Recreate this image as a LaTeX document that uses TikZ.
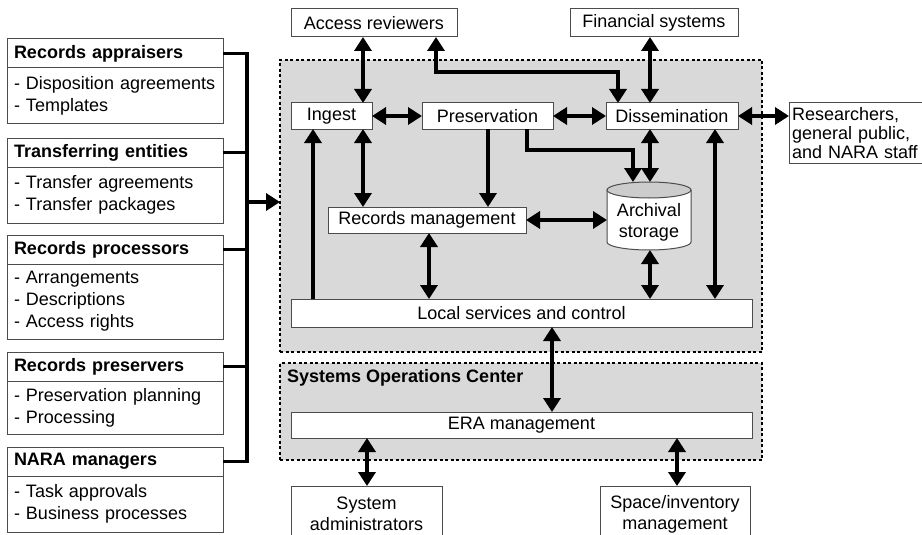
\documentclass[tikz,border=0pt]{standalone}
\usepackage{fontspec}
\setmainfont{Liberation Sans}
\usetikzlibrary{arrows.meta,calc}
\newcommand\myfs{\fontsize{18}{21}\selectfont}
\tikzset{
  box/.style={draw=black!70, line width=1pt, fill=white, inner sep=0pt, outer sep=0pt, font=\myfs, anchor=north west},
  hdr/.style={box, text width=202pt, inner xsep=7pt, align=left, minimum height=29pt, font=\myfs\bfseries},
  bodybox/.style={box, text width=202pt, inner xsep=7pt, align=left, font=\fontsize{18}{22}\selectfont},
  region/.style={draw=black, dash pattern=on 3pt off 2.5pt, line width=1.3pt, fill=black!15, inner sep=0pt, outer sep=0pt, anchor=north west},
  conn/.style={line width=3.5pt, black, line join=miter},
  bi/.style={conn, {Triangle[width=17pt,length=14pt]}-{Triangle[width=17pt,length=14pt]}},
  uni/.style={conn, -{Triangle[width=17pt,length=14pt]}},
}
\begin{document}
\begin{tikzpicture}[x=1pt,y=-1pt]
\useasboundingbox (0,0) rectangle (922,535);
% regions
\node[region, minimum width=482pt, minimum height=292pt] (main) at (280,60) {};
\node[region, minimum width=482pt, minimum height=97pt] (soc) at (280,363) {};
\node[anchor=base west, inner sep=0pt, font=\myfs\bfseries] (soclabel) at (287,382) {Systems Operations Center};
% left boxes
\node[hdr] (h1) at (7,39) {Records appraisers};
\node[bodybox, minimum height=56pt] (b1) at (7,68) {- Disposition agreements\\- Templates};
\node[hdr] (h2) at (7,138) {Transferring entities};
\node[bodybox, minimum height=56pt] (b2) at (7,167) {- Transfer agreements\\- Transfer packages};
\node[hdr] (h3) at (7,235) {Records processors};
\node[bodybox, minimum height=75pt] (b3) at (7,264) {- Arrangements\\- Descriptions\\- Access rights};
\node[hdr] (h4) at (7,352) {Records preservers};
\node[bodybox, minimum height=53pt] (b4) at (7,381) {- Preservation planning\\- Processing};
\node[hdr] (h5) at (7,447) {NARA managers};
\node[bodybox, minimum height=56pt] (b5) at (7,476) {- Task approvals\\- Business processes};
% top / inner boxes
\node[box, minimum width=166pt, minimum height=28pt] (acc) at (291,9) {Access reviewers};
\node[box, minimum width=168pt, minimum height=28pt] (fin) at (570,9) {Financial systems};
\node[box, minimum width=81pt, minimum height=26pt] (ing) at (291,103) {Ingest};
\node[box, minimum width=131pt, minimum height=26pt] (pres) at (422,103) {Preservation};
\node[box, minimum width=132pt, minimum height=26pt] (diss) at (606,103) {Dissemination};
\node[box, text width=128pt, inner xsep=3pt, align=left, minimum height=60pt, font=\fontsize{18}{19}\selectfont] (res) at (789,103) {Researchers,\\general public,\\and NARA staff};
\node[box, minimum width=198pt, minimum height=26pt] (rm) at (328,207) {Records management};
% archival storage cylinder
\path[draw=black!70, line width=1pt, fill=white] (607,190) -- (607,242) arc[start angle=180, end angle=0, x radius=42, y radius=8] -- (691,190) -- cycle;
\draw[draw=black!70, line width=1pt, fill=black!20] (649,190) ellipse [x radius=42, y radius=8];
\node[inner sep=0pt, outer sep=0pt, minimum width=84pt, minimum height=68pt] (arch) at (649,216) {};
\node[inner sep=0pt, align=center, font=\fontsize{18}{21}\selectfont] (archtext) at (649,222) {Archival\\storage};
\node[box, minimum width=461pt, minimum height=28pt] (loc) at (291,299) {Local services and control};
\node[box, minimum width=461pt, minimum height=26pt] (era) at (291,412) {ERA management};
\node[box, minimum width=151pt, minimum height=56pt, align=center] (sa) at (291,486) {System\\administrators};
\node[box, minimum width=150pt, minimum height=56pt, align=center] (sp) at (600,486) {Space/inventory\\management};
% column / row coordinates
\coordinate (busx) at (247,0);
\coordinate (busarr) at (247,202);
\coordinate (xA) at (363,0);
\coordinate (xB) at (436,0);
\coordinate (xC) at (618,0);
\coordinate (xD) at (650,0);
\coordinate (xE) at (313,0);
\coordinate (xF) at (488,0);
\coordinate (xG) at (527,0);
\coordinate (xH) at (633,0);
\coordinate (xI) at (715,0);
\coordinate (xJ) at (429,0);
\coordinate (xK) at (552,0);
\coordinate (xL) at (367,0);
\coordinate (xM) at (677,0);
\coordinate (yE1) at (0,72);
\coordinate (yE2) at (0,150);
% bus
\draw[conn] (h1.east) -- (h1.east -| busx) -- (h5.east -| busx) -- (h5.east);
\draw[conn] (h2.east) -- (h2.east -| busx);
\draw[conn] (h3.east) -- (h3.east -| busx);
\draw[conn] (h4.east) -- (h4.east -| busx);
\draw[uni] (busarr) -- (busarr -| main.west);
% connectors
\draw[bi] (xA |- acc.south) -- (xA |- ing.north);
\draw[bi] (xB |- acc.south) -- (xB |- yE1) -- (xC |- yE1) -- (xC |- diss.north);
\draw[bi] (xD |- fin.south) -- (xD |- diss.north);
\draw[bi] (ing.east) -- (pres.west);
\draw[bi] (pres.east) -- (diss.west);
\draw[bi] (diss.east) -- (diss.east -| res.west);
\draw[uni] (xE |- loc.north) -- (xE |- ing.south);
\draw[bi] (xA |- ing.south) -- (xA |- rm.north);
\draw[uni] (xF |- pres.south) -- (xF |- rm.north);
\draw[uni] (xG |- pres.south) -- (xG |- yE2) -- (xH |- yE2) -- (xH |- arch.north);
\draw[bi] (xD |- diss.south) -- (xD |- arch.north);
\draw[bi] (xI |- diss.south) -- (xI |- loc.north);
\draw[bi] (rm.east) -- (rm.east -| arch.west);
\draw[bi] (xJ |- rm.south) -- (xJ |- loc.north);
\draw[bi] (xD |- arch.south) -- (xD |- loc.north);
\draw[bi] (xK |- loc.south) -- (xK |- era.north);
\draw[bi] (xL |- era.south) -- (xL |- sa.north);
\draw[bi] (xM |- era.south) -- (xM |- sp.north);
\end{tikzpicture}
\end{document}
